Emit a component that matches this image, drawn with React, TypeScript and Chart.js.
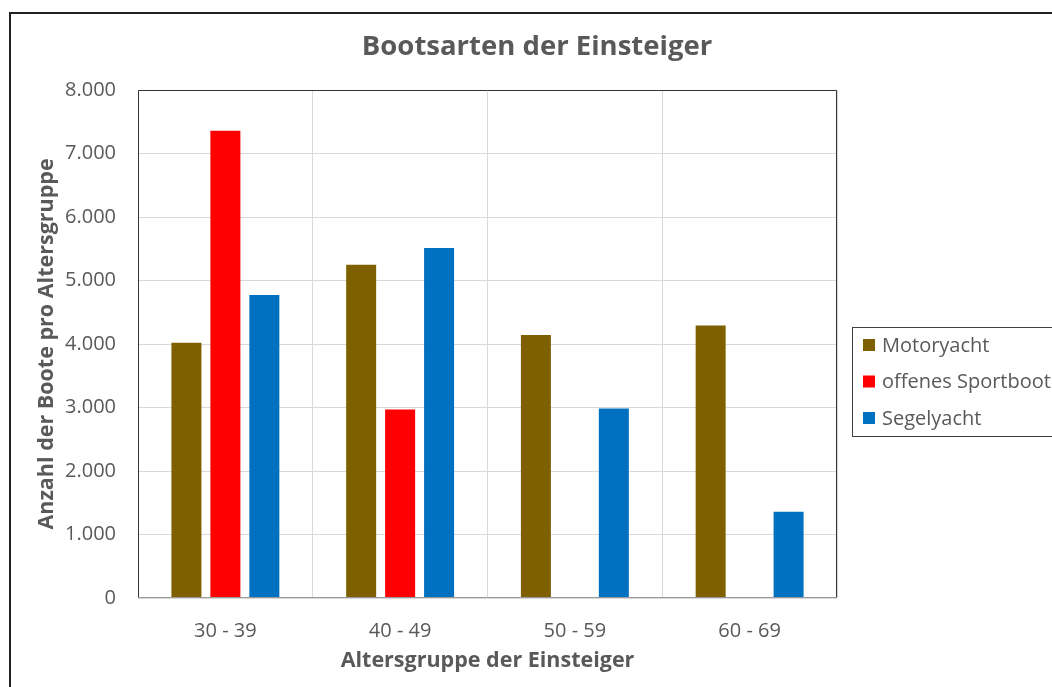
import React, { useEffect, useRef } from 'react';
import { Chart, registerables } from 'chart.js';

Chart.register(...registerables);

const titleText = 'Bootsarten der Einsteiger';
const xTitle = 'Altersgruppe der Einsteiger';
const yTitle = 'Anzahl der Boote pro Altersgruppe';
const categories = ['30 - 39', '40 - 49', '50 - 59', '60 - 69'];
const seriesNames = ['Motoryacht', 'offenes Sportboot', 'Segelyacht'];
const motoryacht = [4020, 5250, 4140, 4290];
const sportboot = [7360, 2970, 0, 0];
const segelyacht = [4770, 5510, 2985, 1360];
const seriesColors = ['#7F6000', '#FF0000', '#0070C0'];
const yMin = 0;
const yMax = 8000;
const yStep = 1000;

const TEXT = '#595959';
const FONT = "'Open Sans', 'Noto Sans', sans-serif";

const fmt = (v: number) => String(v).replace(/\B(?=(\d{3})+(?!\d))/g, '.');

const plotBorder = {
  id: 'plotBorder',
  afterDatasetsDraw(chart: any) {
    const { ctx, chartArea: a } = chart;
    const l = Math.round(a.left) + 0.5;
    const r = Math.round(a.right) - 0.5;
    const t = Math.round(a.top) + 0.5;
    const b = Math.round(a.bottom) - 0.5;
    ctx.save();
    ctx.lineWidth = 1;
    ctx.strokeStyle = '#333333';
    ctx.beginPath();
    ctx.moveTo(l, b);
    ctx.lineTo(l, t);
    ctx.lineTo(r, t);
    ctx.lineTo(r, b);
    ctx.stroke();
    ctx.strokeStyle = '#9a9a9a';
    ctx.beginPath();
    ctx.moveTo(l, b);
    ctx.lineTo(r, b);
    ctx.stroke();
    ctx.restore();
  },
};

const boxLegend = {
  id: 'boxLegend',
  afterDraw(chart: any) {
    const { ctx, chartArea: a } = chart;
    const left = Math.round(a.right) + 15;
    const top = Math.round(a.top) + 237;
    const h = 109;
    ctx.save();
    ctx.lineWidth = 1;
    ctx.strokeStyle = '#404040';
    ctx.strokeRect(left + 0.5, top + 0.5, chart.width + 20, h);
    ctx.font = `20px ${FONT}`;
    ctx.textBaseline = 'middle';
    ctx.textAlign = 'left';
    chart.data.datasets.forEach((ds: any, i: number) => {
      const cy = top + 18 + i * 36.5;
      ctx.fillStyle = ds.backgroundColor;
      ctx.fillRect(left + 11, cy - 6, 12, 12);
      ctx.fillStyle = TEXT;
      ctx.fillText(ds.label, left + 30, cy + 1);
    });
    ctx.restore();
  },
};

export default function App() {
  const ref = useRef<HTMLCanvasElement>(null);

  useEffect(() => {
    if (!ref.current) return;
    const values = [motoryacht, sportboot, segelyacht];
    const chart = new Chart(ref.current, {
      type: 'bar',
      data: {
        labels: categories,
        datasets: seriesNames.map((name, i) => ({
          label: name,
          data: values[i],
          backgroundColor: seriesColors[i],
          borderWidth: 0,
          categoryPercentage: 0.669,
          barPercentage: 0.77,
        })),
      },
      options: {
        responsive: false,
        animation: false,
        layout: { padding: 0 },
        plugins: {
          legend: { display: false },
          tooltip: { enabled: false },
          title: {
            display: true,
            text: titleText,
            color: TEXT,
            font: { family: FONT, size: 27.5, weight: 'bold', lineHeight: 1.2 },
            padding: { top: 15.5, bottom: 26.5 },
          },
        },
        scales: {
          x: {
            grid: { color: '#d9d9d9', drawTicks: false, offset: true },
            border: { display: false },
            ticks: { color: TEXT, font: { family: FONT, size: 20 }, padding: 21, maxRotation: 0 },
            title: {
              display: true,
              text: xTitle,
              color: TEXT,
              font: { family: FONT, size: 21.5, weight: 'bold', lineHeight: 1.2 },
              padding: { top: 0, bottom: 13 },
            },
            afterFit(scale: any) {
              scale.height = 89;
            },
          },
          y: {
            min: yMin,
            max: yMax,
            grid: { color: '#d9d9d9', drawTicks: false },
            border: { display: false },
            ticks: {
              stepSize: yStep,
              color: TEXT,
              font: { family: FONT, size: 20 },
              padding: 22,
              callback: (v: any) => fmt(Number(v)),
            },
            title: {
              display: true,
              text: yTitle,
              color: TEXT,
              font: { family: FONT, size: 21.5, weight: 'bold', lineHeight: 1.2 },
              padding: { top: 22, bottom: 0 },
            },
            afterFit(scale: any) {
              scale.width = 126;
            },
          },
          legendSpace: {
            type: 'linear',
            position: 'right',
            display: true,
            grid: { display: false, drawTicks: false },
            border: { display: false },
            ticks: { display: false },
            afterFit(scale: any) {
              scale.width = 225;
            },
          },
        },
      },
      plugins: [plotBorder, boxLegend],
    });
    return () => chart.destroy();
  }, []);

  return (
    <div style={{ position: 'fixed', left: 0, top: 0, width: 1052, height: 687, overflow: 'hidden', background: '#fff' }}>
      <div
        style={{
          position: 'absolute',
          left: 9,
          top: 12,
          width: 1100,
          height: 720,
          border: '2px solid #222',
          boxSizing: 'border-box',
        }}
      />
      <div style={{ position: 'absolute', left: 12, top: 15, width: 1050, height: 672 }}>
        <canvas ref={ref} width={1050} height={672} style={{ display: 'block', width: 1050, height: 672 }} />
      </div>
    </div>
  );
}
